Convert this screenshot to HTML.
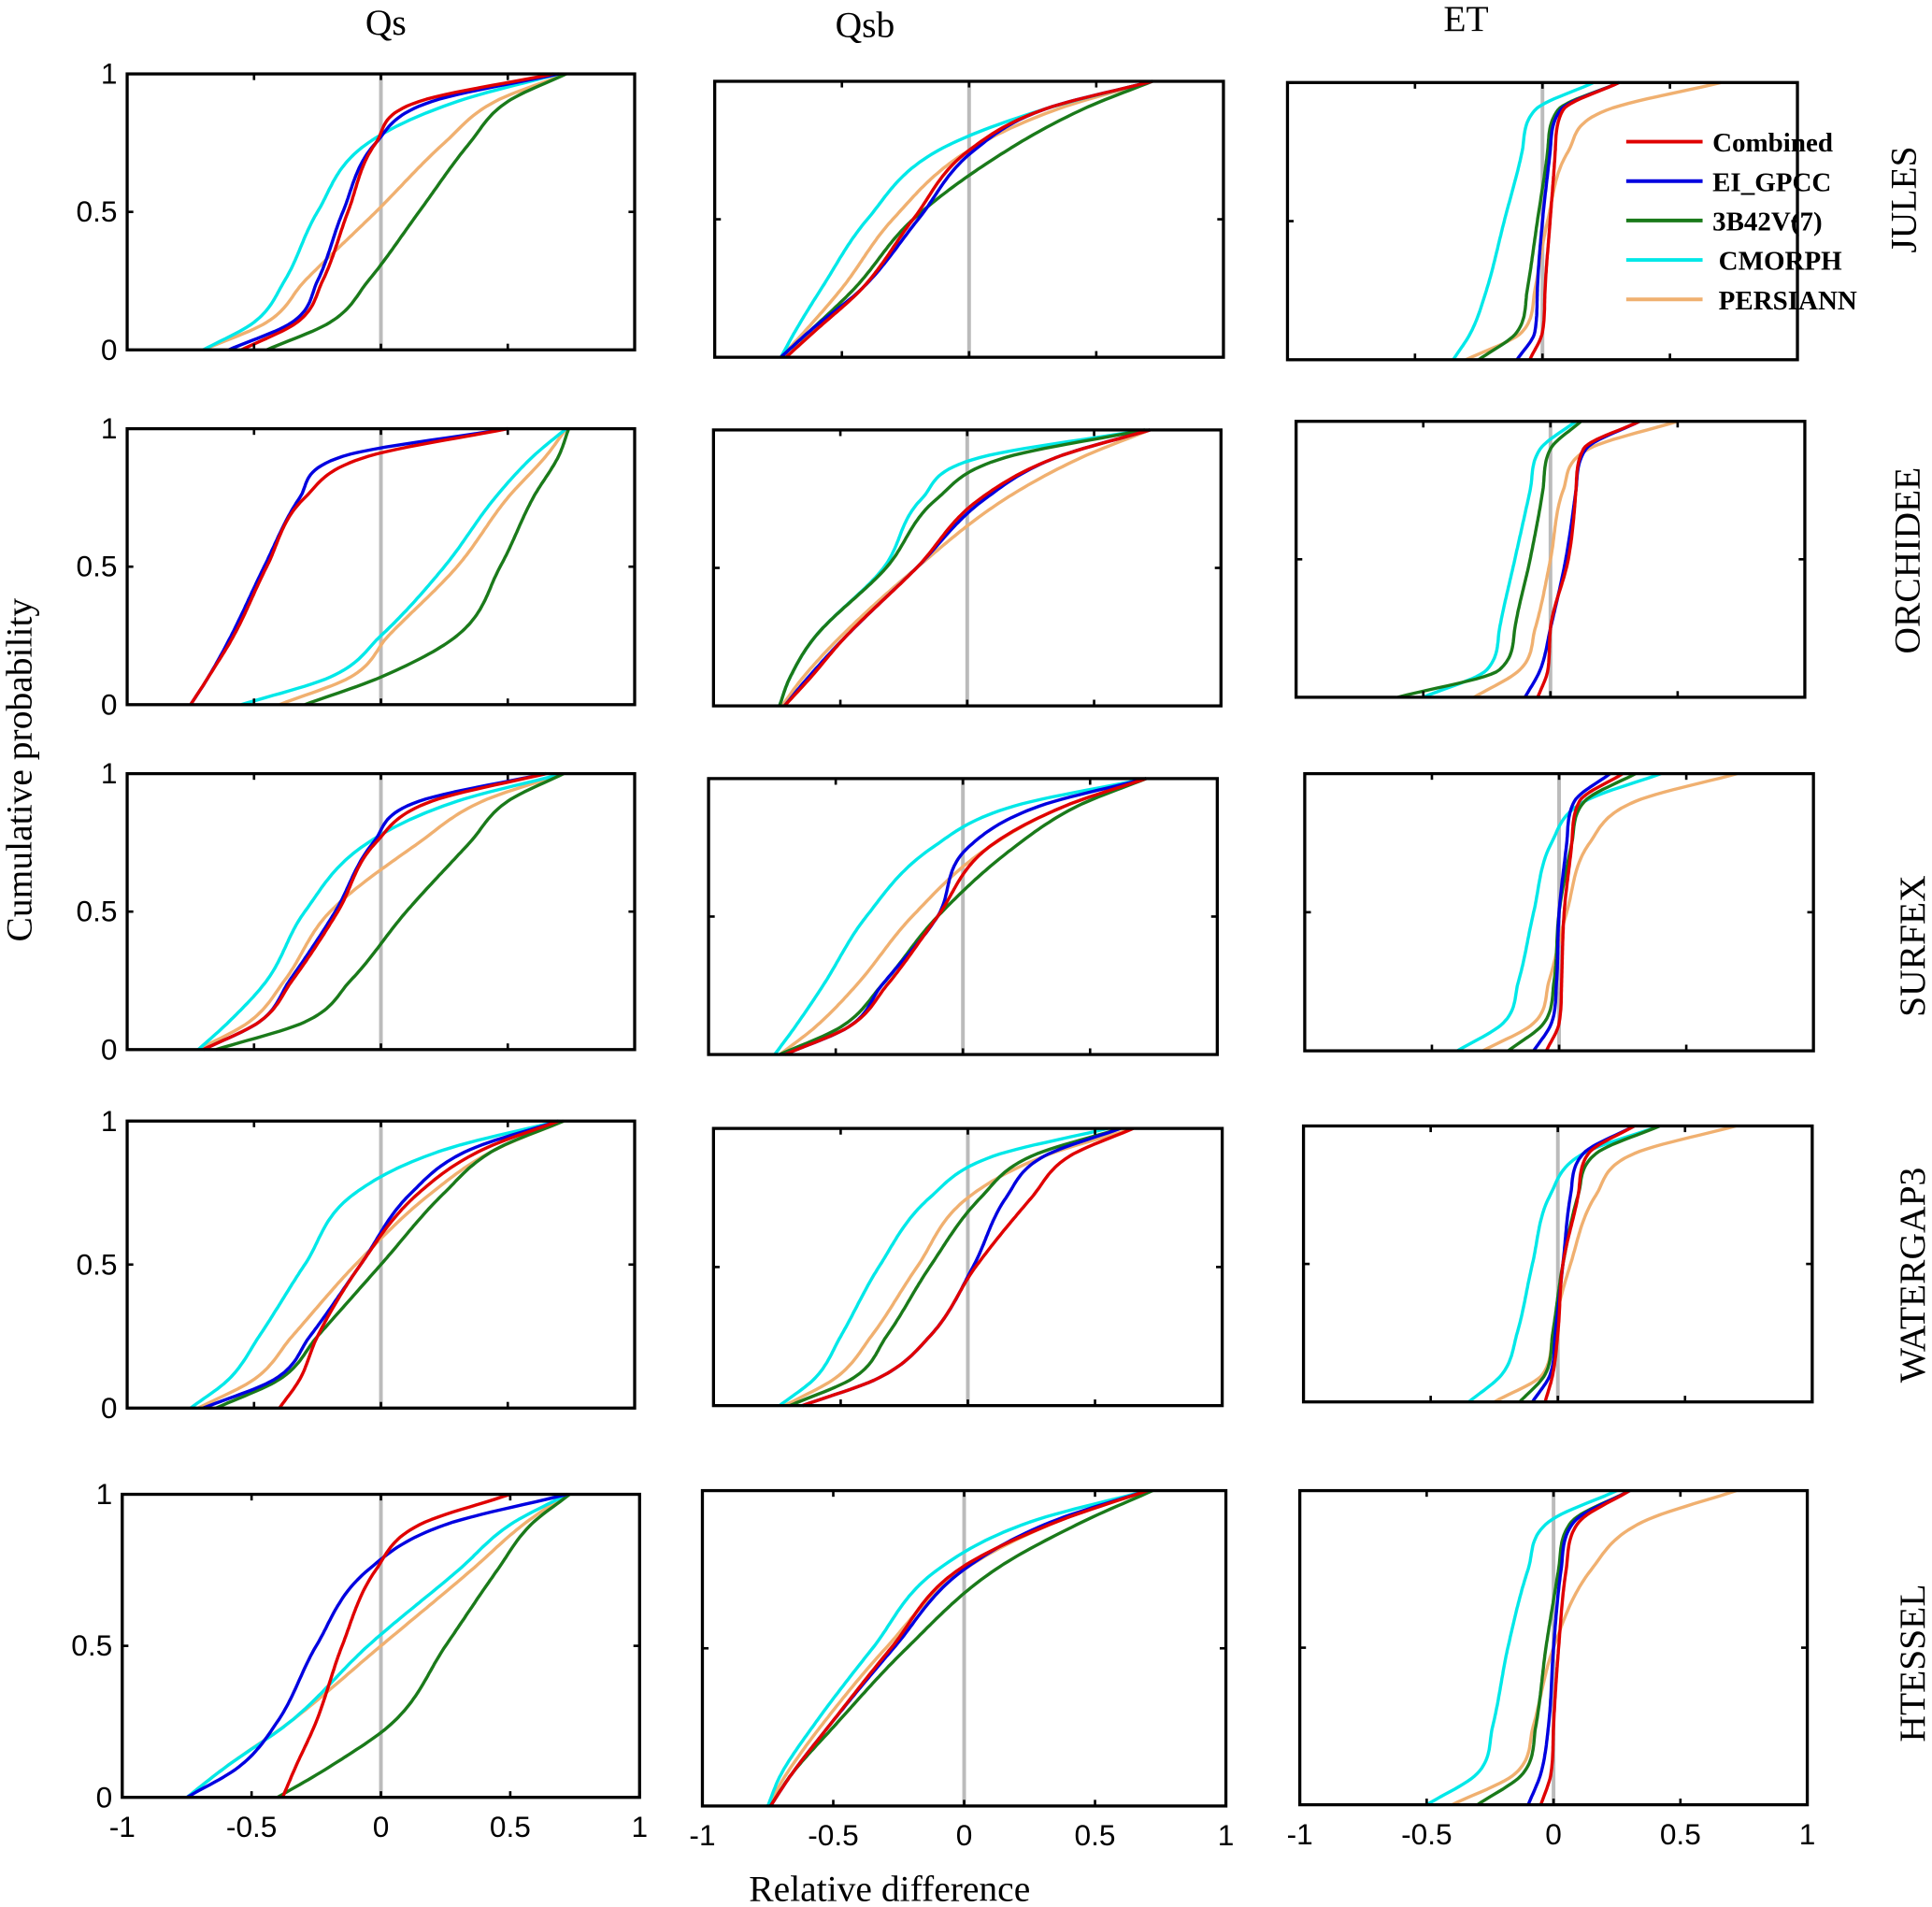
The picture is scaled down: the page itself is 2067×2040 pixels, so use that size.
<!DOCTYPE html>
<html><head><meta charset="utf-8"><style>
html,body{margin:0;padding:0;background:#fff;}
svg{display:block;}
</style></head><body>
<svg id="fig" width="2067" height="2040" viewBox="0 0 1568 1548" xmlns="http://www.w3.org/2000/svg">
<rect x="0" y="0" width="1568" height="1548" fill="#fff"/>
<g id="panels"></g>
<text x="313" y="28" font-family="Liberation Serif, serif" font-size="30" text-anchor="middle">Qs</text>
<text x="702" y="30" font-family="Liberation Serif, serif" font-size="30" text-anchor="middle">Qsb</text>
<text x="1190" y="25" font-family="Liberation Serif, serif" font-size="30" text-anchor="middle">ET</text>
<text transform="translate(25,625) rotate(-90)" font-family="Liberation Serif, serif" font-size="30" text-anchor="middle">Cumulative probability</text>
<text x="722" y="1543" font-family="Liberation Serif, serif" font-size="30" text-anchor="middle">Relative difference</text>
<text transform="translate(1555,162) rotate(-90)" font-family="Liberation Serif, serif" font-size="30" text-anchor="middle">JULES</text>
<text transform="translate(1558,455) rotate(-90)" font-family="Liberation Serif, serif" font-size="30" text-anchor="middle">ORCHIDEE</text>
<text transform="translate(1562,768) rotate(-90)" font-family="Liberation Serif, serif" font-size="30" text-anchor="middle">SURFEX</text>
<text transform="translate(1562,1035) rotate(-90)" font-family="Liberation Serif, serif" font-size="30" text-anchor="middle">WATERGAP3</text>
<text transform="translate(1562,1350) rotate(-90)" font-family="Liberation Serif, serif" font-size="30" text-anchor="middle">HTESSEL</text>
<g id="legend" font-family="Liberation Serif, serif" font-weight="bold" font-size="22"></g>
</svg>
<script>
// Data: x-quantiles (relative difference) at these cumulative probabilities
const probs = [0, 0.1, 0.25, 0.5, 0.75, 0.9, 1];
const seriesNames = ["Combined", "EI_GPCC", "3B42V(7)", "CMORPH", "PERSIANN"];
const seriesColors = ["#e00000", "#0000e0", "#1a7a1a", "#00e8e8", "#f0b070"];
const xTicks = [-1, -0.5, 0, 0.5, 1];
const xTickLabels = ["-1", "-0.5", "0", "0.5", "1"];
const yTicks = [0, 0.5, 1];
const yTickLabels = ["0", "0.5", "1"];
// per panel: [Combined, EI_GPCC, 3B42, CMORPH, PERSIANN]
const julesQs = [[-0.55,-0.33,-0.23,-0.13,-0.02,0.15,0.68],[-0.6,-0.35,-0.25,-0.15,-0.02,0.2,0.7],[-0.45,-0.2,-0.05,0.15,0.35,0.5,0.73],[-0.7,-0.5,-0.38,-0.25,-0.05,0.3,0.7],[-0.7,-0.45,-0.3,-0.02,0.25,0.45,0.73]];
const julesQsb = [[-0.72,-0.6,-0.42,-0.22,0.0,0.3,0.72],[-0.74,-0.62,-0.42,-0.2,0.02,0.3,0.72],[-0.74,-0.62,-0.45,-0.22,0.15,0.45,0.72],[-0.74,-0.68,-0.58,-0.4,-0.12,0.3,0.72],[-0.74,-0.64,-0.5,-0.3,0.0,0.35,0.72]];
const julesEt = [[-0.05,0.0,0.01,0.03,0.05,0.08,0.3],[-0.1,-0.03,-0.02,0.0,0.03,0.07,0.3],[-0.25,-0.1,-0.06,-0.02,0.02,0.06,0.3],[-0.35,-0.28,-0.22,-0.15,-0.08,-0.03,0.2],[-0.3,-0.08,-0.03,0.02,0.1,0.25,0.7]];
const orchQs = [[-0.75,-0.68,-0.58,-0.45,-0.3,-0.05,0.5],[-0.75,-0.68,-0.59,-0.46,-0.32,-0.15,0.5],[-0.3,0.0,0.3,0.47,0.6,0.7,0.74],[-0.55,-0.2,0.0,0.25,0.45,0.6,0.73],[-0.4,-0.12,0.03,0.3,0.5,0.65,0.73]];
const orchQsb = [[-0.72,-0.62,-0.48,-0.2,0.05,0.35,0.72],[-0.72,-0.63,-0.48,-0.2,0.07,0.35,0.72],[-0.74,-0.7,-0.6,-0.32,-0.12,0.15,0.7],[-0.74,-0.7,-0.6,-0.33,-0.18,0.05,0.7],[-0.73,-0.65,-0.5,-0.2,0.15,0.45,0.72]];
const orchEt = [[-0.05,-0.01,0.0,0.07,0.1,0.13,0.35],[-0.1,-0.04,0.0,0.06,0.1,0.14,0.35],[-0.6,-0.2,-0.14,-0.08,-0.03,0.0,0.12],[-0.5,-0.25,-0.2,-0.14,-0.08,-0.04,0.1],[-0.3,-0.12,-0.06,0.0,0.05,0.15,0.5]];
const surfQs = [[-0.7,-0.48,-0.35,-0.17,-0.02,0.2,0.65],[-0.7,-0.48,-0.36,-0.18,-0.03,0.15,0.65],[-0.65,-0.3,-0.12,0.1,0.35,0.5,0.72],[-0.72,-0.6,-0.45,-0.3,-0.05,0.3,0.72],[-0.72,-0.52,-0.38,-0.2,0.15,0.4,0.72]];
const surfQsb = [[-0.7,-0.45,-0.3,-0.1,0.1,0.4,0.72],[-0.7,-0.45,-0.32,-0.1,0.02,0.3,0.72],[-0.72,-0.48,-0.32,-0.1,0.2,0.45,0.72],[-0.74,-0.66,-0.55,-0.38,-0.12,0.2,0.72],[-0.72,-0.58,-0.42,-0.2,0.1,0.4,0.72]];
const surfEt = [[-0.05,0.0,0.01,0.02,0.05,0.08,0.25],[-0.1,-0.03,-0.01,0.0,0.03,0.06,0.2],[-0.2,-0.06,-0.02,0.0,0.05,0.1,0.3],[-0.4,-0.22,-0.16,-0.1,-0.03,0.1,0.4],[-0.3,-0.1,-0.04,0.03,0.12,0.3,0.7]];
const wgQs = [[-0.4,-0.32,-0.25,-0.08,0.15,0.4,0.7],[-0.7,-0.42,-0.28,-0.08,0.12,0.35,0.7],[-0.65,-0.4,-0.25,0.0,0.25,0.45,0.72],[-0.75,-0.6,-0.48,-0.3,-0.1,0.25,0.7],[-0.72,-0.5,-0.35,-0.1,0.2,0.45,0.72]];
const wgQsb = [[-0.65,-0.35,-0.15,0.03,0.25,0.4,0.65],[-0.65,-0.35,-0.15,0.02,0.15,0.3,0.6],[-0.7,-0.45,-0.32,-0.15,0.05,0.25,0.6],[-0.74,-0.6,-0.5,-0.35,-0.15,0.1,0.55],[-0.72,-0.52,-0.38,-0.2,0.0,0.3,0.65]];
const wgEt = [[-0.05,-0.02,0.0,0.02,0.08,0.12,0.3],[-0.1,-0.03,-0.01,0.02,0.05,0.1,0.3],[-0.15,-0.05,-0.02,0.02,0.08,0.15,0.4],[-0.35,-0.22,-0.16,-0.1,-0.03,0.1,0.4],[-0.25,-0.06,-0.02,0.05,0.15,0.3,0.7]];
const htQs = [[-0.38,-0.33,-0.25,-0.15,-0.02,0.15,0.5],[-0.75,-0.55,-0.4,-0.25,-0.05,0.25,0.72],[-0.4,-0.2,0.05,0.25,0.45,0.58,0.73],[-0.75,-0.6,-0.35,-0.05,0.3,0.5,0.72],[-0.75,-0.6,-0.35,0.0,0.35,0.55,0.72]];
const htQsb = [[-0.74,-0.66,-0.52,-0.28,-0.02,0.35,0.7],[-0.74,-0.66,-0.52,-0.27,0.0,0.33,0.7],[-0.74,-0.66,-0.5,-0.22,0.12,0.45,0.72],[-0.75,-0.7,-0.58,-0.35,-0.1,0.25,0.7],[-0.75,-0.68,-0.55,-0.3,0.0,0.35,0.7]];
const htEt = [[-0.05,-0.01,0.0,0.02,0.05,0.1,0.3],[-0.1,-0.05,-0.02,0.0,0.03,0.08,0.3],[-0.3,-0.12,-0.07,-0.03,0.02,0.07,0.3],[-0.5,-0.3,-0.24,-0.18,-0.1,-0.02,0.25],[-0.4,-0.15,-0.08,0.0,0.15,0.35,0.72]];

const panelData = [[julesQs,julesQsb,julesEt],[orchQs,orchQsb,orchEt],[surfQs,surfQsb,surfEt],[wgQs,wgQsb,wgEt],[htQs,htQsb,htEt]];
const rowNames = ["jules","orchidee","surfex","watergap3","htessel"];
const colNames = ["qs","qsb","et"];
// layout boxes [x0,y0,x1,y1]
const boxes = [
 [[103,60,515,284],[580,66,993,290],[1045,67,1459,292]],
 [[103,348,515,572],[579,349,991,573],[1052,342,1465,566]],
 [[103,628,515,852],[575,632,988,856],[1059,628,1472,853]],
 [[103,910,515,1143],[579,916,992,1141],[1058,914,1471,1138]],
 [[99,1213,519,1459],[570,1210,995,1466],[1055,1210,1467,1465]]];

const NS="http://www.w3.org/2000/svg";
function mk(tag,attrs,parent){const e=document.createElementNS(NS,tag);for(const k in attrs)e.setAttribute(k,attrs[k]);parent.appendChild(e);return e;}

// monotone cubic interpolation of x(p)
function interp(ps,xs,n){
  const m=ps.length,d=[],t=new Array(m);
  for(let i=0;i<m-1;i++)d.push((xs[i+1]-xs[i])/(ps[i+1]-ps[i]));
  t[0]=d[0];t[m-1]=d[m-2];
  for(let i=1;i<m-1;i++)t[i]=(d[i-1]*d[i]<=0)?0:(d[i-1]+d[i])/2;
  for(let i=0;i<m-1;i++){if(d[i]===0){t[i]=0;t[i+1]=0;continue;}const a=t[i]/d[i],b=t[i+1]/d[i],s=a*a+b*b;if(s>9){const tt=3/Math.sqrt(s);t[i]=tt*a*d[i];t[i+1]=tt*b*d[i];}}
  const out=[];
  for(let k=0;k<=n;k++){const p=k/n;let i=0;while(i<m-2&&p>ps[i+1])i++;
    const h=ps[i+1]-ps[i],u=(p-ps[i])/h,h00=2*u*u*u-3*u*u+1,h10=u*u*u-2*u*u+u,h01=-2*u*u*u+3*u*u,h11=u*u*u-u*u;
    out.push([h00*xs[i]+h10*h*t[i]+h01*xs[i+1]+h11*h*t[i+1],p]);}
  return out;
}

const root=document.getElementById('panels');
for(let r=0;r<5;r++)for(let c=0;c<3;c++){
  const [x0,y0,x1,y1]=boxes[r][c];
  const sx=v=>x0+(v+1)/2*(x1-x0);
  const sy=v=>y1-v*(y1-y0);
  const g=mk('g',{},root);
  
  
  const zl=mk('line',{x1:sx(0),x2:sx(0),y1:y0,y2:y1,stroke:'#bbb','stroke-width':3},g);
  
  
  const data=panelData[r][c];
  const order=[4,3,2,1,0];
  for(const s of order){
    const pts=interp(probs,data[s],120);
    const pl=mk('polyline',{points:pts.map(q=>sx(q[0]).toFixed(1)+','+sy(q[1]).toFixed(1)).join(' '),fill:'none',stroke:seriesColors[s],'stroke-width':2.6,'stroke-linejoin':'round'},g);
    
    
  }
  const fr=mk('rect',{x:x0,y:y0,width:x1-x0,height:y1-y0,fill:'none',stroke:'#000','stroke-width':2.5},g);
  
  
  xTicks.forEach((v,i)=>{
    mk('line',{x1:sx(v),x2:sx(v),y1:y1,y2:y1-5,stroke:'#000','stroke-width':2},g);
    mk('line',{x1:sx(v),x2:sx(v),y1:y0,y2:y0+5,stroke:'#000','stroke-width':2},g);
    if(r===4){const t=mk('text',{x:sx(v),y:y1+32,'font-family':'Liberation Sans, sans-serif','font-size':24,'text-anchor':'middle'},g);t.textContent=xTickLabels[i];
      
      }
  });
  yTicks.forEach((v,i)=>{
    mk('line',{x1:x0,x2:x0+5,y1:sy(v),y2:sy(v),stroke:'#000','stroke-width':2},g);
    mk('line',{x1:x1,x2:x1-5,y1:sy(v),y2:sy(v),stroke:'#000','stroke-width':2},g);
    if(c===0){const t=mk('text',{x:x0-8,y:sy(v)+8,'font-family':'Liberation Sans, sans-serif','font-size':24,'text-anchor':'end'},g);t.textContent=yTickLabels[i];
      
      }
  });
}
// legend
const lg=document.getElementById('legend');
const legX=[1390,1390,1390,1395,1395];
seriesNames.forEach((n,i)=>{
  const y=115+i*32;
  const ln=mk('line',{x1:1320,x2:1382,y1:y,y2:y,stroke:seriesColors[i],'stroke-width':3},lg);
  
  
  const t=mk('text',{x:legX[i],y:y+8},lg);t.textContent=n;
  
  
});
</script>
</body></html>
